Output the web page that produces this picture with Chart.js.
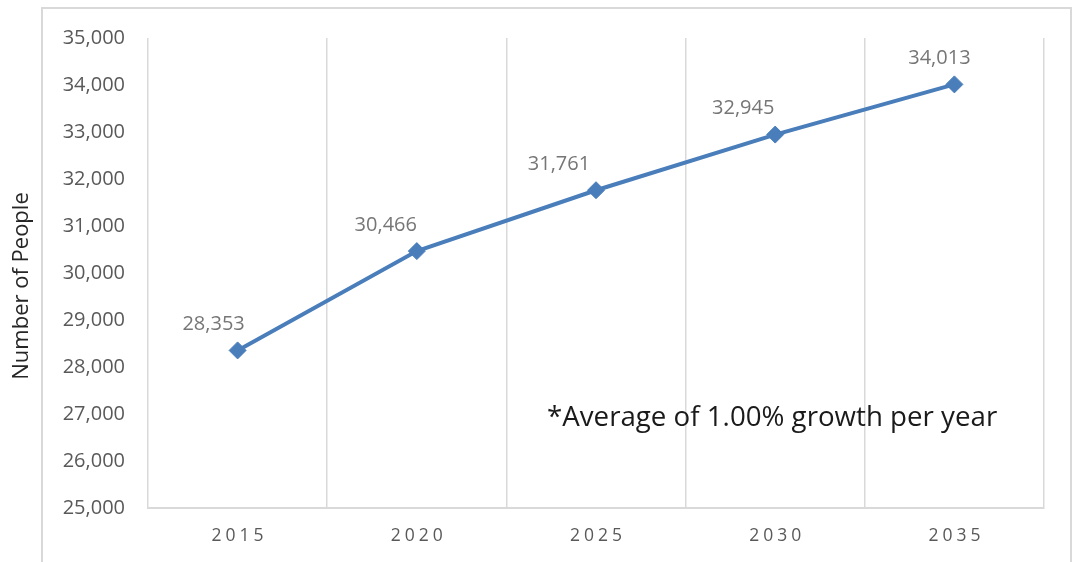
<!DOCTYPE html>
<html>
<head>
<meta charset="utf-8">
<script src="https://cdn.jsdelivr.net/npm/chart.js@4/dist/chart.umd.min.js"></script>
<style>
  html, body { margin: 0; padding: 0; background: #fff; }
  canvas { display: block; }
</style>
</head>
<body>
<canvas id="popChart" width="1077" height="562"></canvas>
<script>
// population projection chart

const years = ["2015", "2020", "2025", "2030", "2035"];
const people = [28353, 30466, 31761, 32945, 34013];
const yTicks = [25000, 26000, 27000, 28000, 29000, 30000, 31000, 32000, 33000, 34000, 35000];
const yTitle = "Number of People";
const noteText = "*Average of 1.00% growth per year";

// how far each value label sits left of its point (px)
const labelShiftX = [-24, -31, -37, -32, -15];

const fontName = "'Open Sans', sans-serif";
const lineBlue = "#4a7ebb";
const gridGrey = "#d9d9d9";

function fmt(n) {
  return n.toLocaleString("en-US");
}

const extrasPlugin = {
  id: "extras",
  beforeDraw(chart) {
    const ctx = chart.ctx;
    ctx.save();
    ctx.fillStyle = "#fff";
    ctx.fillRect(0, 0, chart.width, chart.height);
    ctx.strokeStyle = gridGrey;
    ctx.lineWidth = 2;
    ctx.strokeRect(42, 8, 1029, 600);
    ctx.restore();
  },
  afterDraw(chart) {
    const ctx = chart.ctx;
    const xs = chart.scales.x;
    const ys = chart.scales.y;
    ctx.save();

    // x labels, spaced out like the original
    ctx.font = "17.5px " + fontName;
    ctx.fillStyle = "#595959";
    ctx.textAlign = "center";
    ctx.textBaseline = "middle";
    ctx.letterSpacing = "4px";
    years.forEach((y, i) => {
      ctx.fillText(y, xs.getPixelForValue(i) + 2, xs.top + 28);
    });
    ctx.letterSpacing = "0px";

    // value labels
    ctx.font = "20px " + fontName;
    ctx.fillStyle = "#767676";
    people.forEach((v, i) => {
      const px = xs.getPixelForValue(i);
      const py = ys.getPixelForValue(v);
      ctx.fillText(fmt(v), px + labelShiftX[i], py - 26);
    });

    // axis title
    ctx.save();
    ctx.translate(22, 286);
    ctx.rotate(-Math.PI / 2);
    ctx.font = "22px " + fontName;
    ctx.fillStyle = "#262626";
    ctx.fillText(yTitle, 0, 0);
    ctx.restore();

    // note
    ctx.font = "27.7px " + fontName;
    ctx.fillStyle = "#1a1a1a";
    ctx.textAlign = "left";
    ctx.textBaseline = "alphabetic";
    ctx.fillText(noteText, 547, 426);

    ctx.restore();
  },
};

new Chart(document.getElementById("popChart"), {
  type: "line",
  data: {
    labels: years,
    datasets: [{
      data: people,
      borderColor: lineBlue,
      backgroundColor: lineBlue,
      borderWidth: 4,
      pointStyle: "rectRot",
      pointRadius: 8.5,
      pointBorderWidth: 1,
      tension: 0,
    }],
  },
  options: {
    responsive: false,
    animation: false,
    layout: { padding: { top: 38, right: 33, left: 0, bottom: 0 } },
    plugins: { legend: { display: false }, tooltip: { enabled: false } },
    scales: {
      x: {
        offset: true,
        grid: { offset: true, color: gridGrey, lineWidth: 1.5, drawTicks: false },
        border: { color: gridGrey, width: 2 },
        ticks: { display: false },
        afterFit(scale) { scale.height = 54; },
      },
      y: {
        min: 25000,
        max: 35000,
        afterBuildTicks(scale) { scale.ticks = yTicks.map((v) => ({ value: v })); },
        ticks: {
          font: { family: fontName, size: 20 },
          color: "#595959",
          padding: 23,
          callback: (v) => fmt(v),
        },
        grid: { display: false, drawTicks: false },
        border: { display: false },
        afterFit(scale) { scale.width = 148; },
      },
    },
  },
  plugins: [extrasPlugin],
});
</script>
</body>
</html>
